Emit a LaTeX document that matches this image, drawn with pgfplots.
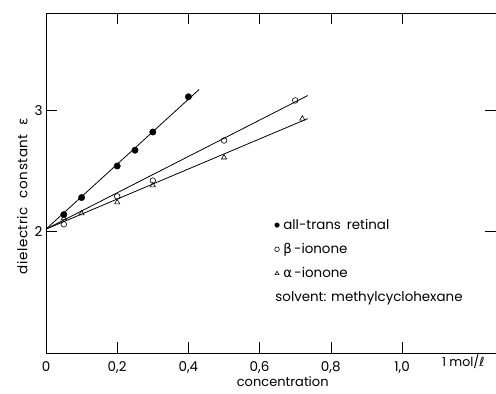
\documentclass[border=0pt]{standalone}
\usepackage{pgfplots}
\pgfplotsset{compat=1.18}
\usepackage{fontspec}
\setmainfont{Poppins}
\newfontfamily\gk{DejaVu Sans}
\begin{document}
\begin{tikzpicture}[x=1pt,y=1pt]
\path[use as bounding box] (-46,-41) rectangle (450,353);
\begin{axis}[
  at={(0,0)}, anchor=south west,
  scale only axis, width=450pt, height=340pt,
  xmin=0, xmax=1.264, ymin=1, ymax=3.8,
  clip=false,
  axis line style={line width=0.7pt},
  tick align=inside, major tick length=11pt,
  tick style={line width=0.6pt, black},
  xtick={0,0.2,0.4,0.6,0.8,1.0},
  xticklabels={0,{0,2},{0,4},{0,6},{0,8},{1,0}},
  ytick={2,3}, yticklabels={2,3},
  tick label style={font=\fontsize{13.5}{15}\selectfont},
  xticklabel style={yshift=-5pt},
  /pgf/number format/assume math mode=true,
  xlabel={concentration},
  xlabel style={font=\fontsize{13}{15}\selectfont, at={(axis description cs:0.526,0)}, anchor=north, yshift=-20pt},
  ylabel={\addfontfeatures{LetterSpace=4}dielectric\hspace{9pt}constant\hspace{9pt}{\gk ε}},
  ylabel style={font=\fontsize{13.5}{15}\selectfont, at={(axis description cs:0,0.462)}, anchor=south, yshift=15pt},
  legend style={draw=none, fill=none, at={(axis cs:0.642,2.12)}, anchor=north west,
    font=\fontsize{13.4}{15}\selectfont, row sep=8.5pt, inner sep=0pt},
  legend cell align=left,
  legend image code/.code={\draw[mark repeat=1,mark phase=1,#1,mark size=2.3pt] plot coordinates {(0pt,0pt)};},
]
% fitted lines
\addplot[black, line width=0.8pt, forget plot] coordinates {(0,2.02) (0.43,3.17)};
\addplot[black, line width=0.8pt, forget plot] coordinates {(0,2.02) (0.735,3.12)};
\addplot[black, line width=0.8pt, forget plot] coordinates {(0,2.02) (0.735,2.93)};
% data
\addplot[only marks, mark=*, mark size=3.2pt, black, fill=black] coordinates {
  (0.05,2.14) (0.1,2.28) (0.2,2.54) (0.25,2.67) (0.3,2.82) (0.4,3.11)};
\addlegendentry{\hspace{2pt}all-trans\hspace{6pt}retinal}
\addplot[only marks, mark=o, mark size=2.8pt, black, mark options={fill=white, line width=0.6pt}] coordinates {
  (0.05,2.06) (0.2,2.29) (0.3,2.42) (0.5,2.75) (0.7,3.08)};
\addlegendentry{\hspace{2pt}{\gk β}\,-ionone}
\addplot[only marks, mark=triangle, mark size=3pt, black, mark options={fill=white, line width=0.6pt}] coordinates {
  (0.05,2.11) (0.1,2.15) (0.2,2.24) (0.3,2.38) (0.5,2.61) (0.72,2.93)};
\addlegendentry{\hspace{2pt}{\gk α}\,-ionone}
\node[anchor=west, font=\fontsize{13.4}{15}\selectfont, inner sep=0pt] at (axis cs:0.644,1.45) {solvent: methylcyclohexane};
\node[anchor=north west, font=\fontsize{12.5}{13}\selectfont, inner sep=0pt] at (axis cs:1.112,0.985) {1 mol/{\gk ℓ}};
\end{axis}
\end{tikzpicture}
\end{document}
